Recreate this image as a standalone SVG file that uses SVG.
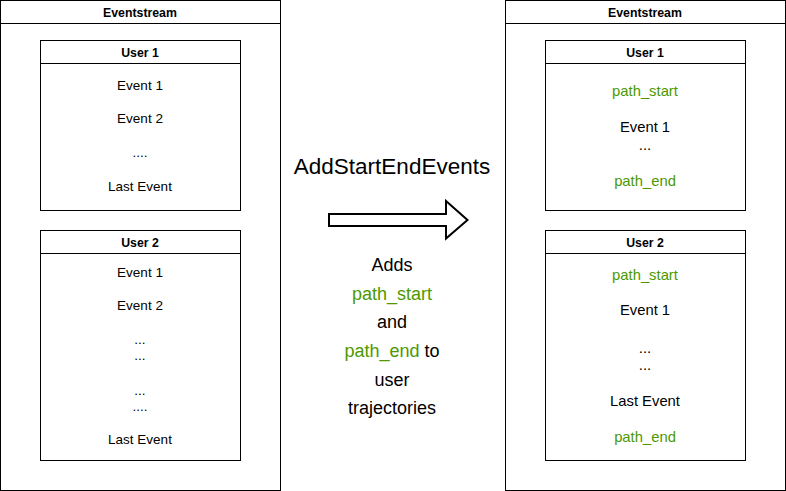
<svg xmlns="http://www.w3.org/2000/svg" width="786" height="491" viewBox="0 0 786 491">
<style>
.box{fill:#fff;stroke:#000;stroke-width:1}
.ln{stroke:#000;stroke-width:1}
text{font-family:"Liberation Sans",Arial,sans-serif;text-anchor:middle;fill:#000}
.h{font-size:12.3px;font-weight:bold}
.e{font-size:13.5px}
.r{font-size:14.8px}
.g{fill:#4D9900}
.m{font-size:18px}
</style>
<rect width="786" height="491" fill="#fff"/>
<g id="left-eventstream">
<rect class="box" x="0.5" y="0.5" width="280" height="490"/>
<line class="ln" x1="0.5" y1="23.5" x2="280.5" y2="23.5"/>
<text class="h" x="140" y="17">Eventstream</text>
</g>
<g id="left-user1">
<rect class="box" x="40.5" y="40.5" width="200" height="170"/>
<line class="ln" x1="40.5" y1="63.5" x2="240.5" y2="63.5"/>
<text class="h" x="140" y="57">User 1</text>
<text class="e" x="140" y="90">Event 1</text>
<text class="e" x="140" y="123">Event 2</text>
<text class="e" x="140" y="156.5">....</text>
<text class="e" x="140" y="190.5">Last Event</text>
</g>
<g id="left-user2">
<rect class="box" x="40.5" y="230.5" width="200" height="230"/>
<line class="ln" x1="40.5" y1="253.5" x2="240.5" y2="253.5"/>
<text class="h" x="140" y="247">User 2</text>
<text class="e" x="140" y="277">Event 1</text>
<text class="e" x="140" y="310">Event 2</text>
<text class="e" x="140" y="343.5">...</text>
<text class="e" x="140" y="360">...</text>
<text class="e" x="140" y="394.5">...</text>
<text class="e" x="140" y="411">....</text>
<text class="e" x="140" y="444">Last Event</text>
</g>
<g id="right-eventstream">
<rect class="box" x="505.5" y="0.5" width="280" height="490"/>
<line class="ln" x1="505.5" y1="23.5" x2="785.5" y2="23.5"/>
<text class="h" x="645" y="17">Eventstream</text>
</g>
<g id="right-user1">
<rect class="box" x="545.5" y="40.5" width="200" height="170"/>
<line class="ln" x1="545.5" y1="63.5" x2="745.5" y2="63.5"/>
<text class="h" x="645" y="57">User 1</text>
<text class="r g" x="645" y="95.5">path_start</text>
<text class="r" x="645" y="131.5">Event 1</text>
<text class="r" x="645" y="150">...</text>
<text class="r g" x="645" y="186">path_end</text>
</g>
<g id="right-user2">
<rect class="box" x="545.5" y="230.5" width="200" height="230"/>
<line class="ln" x1="545.5" y1="253.5" x2="745.5" y2="253.5"/>
<text class="h" x="645" y="247">User 2</text>
<text class="r g" x="645" y="279.5">path_start</text>
<text class="r" x="645" y="315">Event 1</text>
<text class="r" x="645" y="352.5">...</text>
<text class="r" x="645" y="370">...</text>
<text class="r" x="645" y="405.5">Last Event</text>
<text class="r g" x="645" y="441.5">path_end</text>
</g>
<g id="connectors">
<path d="M329,214 L446,214 L446,201 L467.5,220 L446,238.5 L446,226 L329,226 Z" fill="#fff" stroke="#000" stroke-width="2" stroke-linejoin="miter"/>
</g>
<g id="transform-label">
<text x="392" y="173.5" style="font-size:22.5px">AddStartEndEvents</text>
<text class="m" x="392" y="271">Adds</text>
<text class="m g" x="392" y="299.5">path_start</text>
<text class="m" x="392" y="328">and</text>
<text class="m" x="392" y="357"><tspan class="g">path_end</tspan> to</text>
<text class="m" x="392" y="385.5">user</text>
<text class="m" x="392" y="413.5">trajectories</text>
</g>
</svg>
